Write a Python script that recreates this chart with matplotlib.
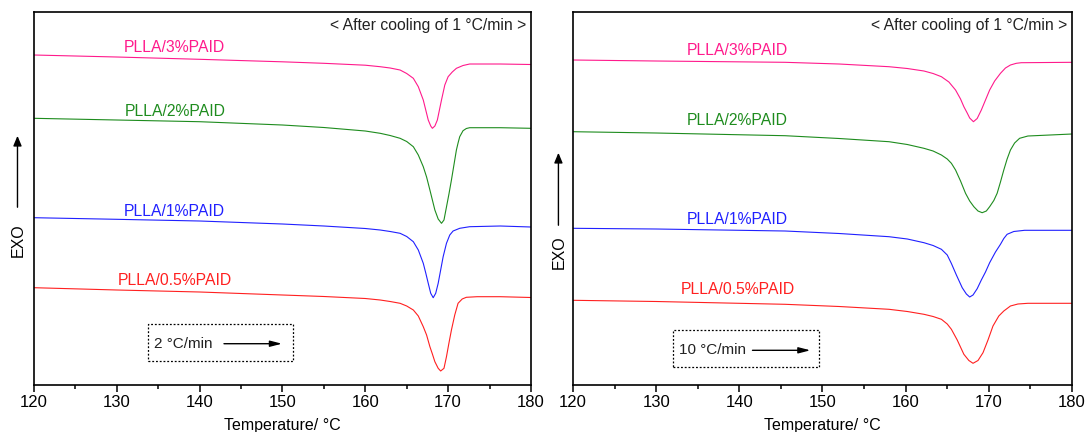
import matplotlib
matplotlib.use('Agg')
import matplotlib.pyplot as plt
from matplotlib.patches import Rectangle, FancyArrowPatch
from matplotlib.ticker import MultipleLocator

plt.rcParams['font.family'] = ['Liberation Sans', 'DejaVu Sans']

# ---- 2 C/min (left panel), heat flow in arbitrary units ----
T_2_3 = [120, 130, 140, 150, 155, 160, 161.8, 163.0, 164.2, 165.0, 165.8, 166.4, 167.0, 167.6,
         167.9, 168.1, 168.4, 168.7, 169.2, 169.6, 170.0, 170.5, 171.0, 171.8, 172.6, 176.3, 180]
Q_2_3 = [3.30, 3.28, 3.257, 3.232, 3.217, 3.198, 3.183, 3.17, 3.15, 3.115, 3.067, 2.983, 2.85, 2.65,
         2.59, 2.567, 2.59, 2.65, 2.85, 3.00, 3.083, 3.13, 3.167, 3.195, 3.21, 3.21, 3.205]

T_2_2 = [120, 130, 140, 150, 155, 160, 161.8, 163.0, 164.2, 165.0, 165.8, 166.4, 167.0, 167.4,
         167.8, 168.1, 168.4, 168.8, 169.2, 169.5, 169.8, 170.1, 170.4, 170.7, 171.0, 171.2,
         171.4, 171.8, 172.2, 172.6, 176.3, 180]
Q_2_2 = [2.667, 2.65, 2.633, 2.60, 2.575, 2.54, 2.517, 2.495, 2.467, 2.435, 2.383, 2.30, 2.183, 2.08,
         1.95, 1.85, 1.75, 1.66, 1.617, 1.65, 1.78, 1.91, 2.05, 2.20, 2.35, 2.42,
         2.483, 2.543, 2.565, 2.573, 2.573, 2.567]

T_2_1 = [120, 130, 140, 150, 155, 160, 161.8, 163.0, 164.2, 165.0, 165.8, 166.4, 167.0, 167.3,
         167.6, 167.9, 168.2, 168.5, 168.8, 169.1, 169.4, 169.8, 170.2, 170.6, 171.4, 172.6, 176.3, 180]
Q_2_1 = [1.673, 1.657, 1.64, 1.61, 1.59, 1.565, 1.55, 1.535, 1.517, 1.485, 1.433, 1.35, 1.217, 1.12,
         1.017, 0.917, 0.873, 0.917, 1.017, 1.15, 1.283, 1.417, 1.50, 1.54, 1.567, 1.583, 1.59, 1.58]

T_2_05 = [120, 130, 140, 150, 155, 160, 161.8, 163.0, 164.2, 165.0, 165.8, 166.4, 167.0, 167.4,
          167.8, 168.1, 168.4, 168.8, 169.1, 169.5, 169.8, 170.1, 170.4, 170.8, 171.2, 171.7,
          172.2, 173.5, 176.3, 180]
Q_2_05 = [0.973, 0.95, 0.93, 0.90, 0.885, 0.865, 0.85, 0.835, 0.817, 0.79, 0.75, 0.69, 0.583, 0.50,
          0.383, 0.31, 0.233, 0.167, 0.14, 0.167, 0.283, 0.42, 0.55, 0.70, 0.817, 0.86,
          0.877, 0.883, 0.883, 0.875]

# ---- 10 C/min (right panel) ----
T_10_3 = [120, 130, 145.5, 152, 158, 160.2, 162.2, 163.3, 164.3, 165.2, 166.0, 166.6, 167.0, 167.4,
          167.7, 168.15, 168.6, 169.1, 169.6, 170.1, 170.7, 171.4, 172.0, 172.6, 173.3, 173.9, 180]
Q_10_3 = [3.25, 3.24, 3.227, 3.21, 3.183, 3.165, 3.14, 3.115, 3.083, 3.03, 2.95, 2.86, 2.783, 2.72,
          2.67, 2.633, 2.665, 2.75, 2.85, 2.95, 3.04, 3.117, 3.17, 3.20, 3.217, 3.223, 3.227]

T_10_2 = [120, 130, 145.5, 152, 158, 160.2, 162.2, 163.3, 164.3, 165.0, 165.5, 166.0, 166.6, 167.2,
          167.7, 168.2, 168.7, 169.2, 169.7, 170.1, 170.6, 171.0, 171.4, 171.8, 172.2, 172.6,
          173.1, 173.7, 174.7, 180]
Q_10_2 = [2.533, 2.52, 2.493, 2.465, 2.433, 2.405, 2.367, 2.34, 2.30, 2.26, 2.217, 2.15, 2.04, 1.917,
          1.84, 1.783, 1.74, 1.723, 1.74, 1.783, 1.845, 1.917, 2.03, 2.15, 2.26, 2.35,
          2.42, 2.467, 2.49, 2.51]

T_10_1 = [120, 130, 145.5, 152, 158, 160.2, 162.2, 163.3, 164.3, 165.0, 165.5, 166.1, 166.8, 167.3,
          167.7, 168.1, 168.6, 169.1, 169.6, 170.1, 170.8, 171.4, 171.8, 172.2, 173.0, 174.3, 180]
Q_10_1 = [1.567, 1.56, 1.54, 1.515, 1.483, 1.46, 1.423, 1.395, 1.357, 1.30, 1.215, 1.10, 0.973, 0.91,
          0.88, 0.90, 0.963, 1.05, 1.13, 1.223, 1.33, 1.407, 1.465, 1.507, 1.535, 1.547, 1.547]

T_10_05 = [120, 130, 145.5, 152, 158, 160.2, 162.2, 163.3, 164.3, 165.0, 165.5, 166.2, 167.0, 167.6,
           168.1, 168.7, 169.3, 169.9, 170.5, 171.2, 171.8, 172.6, 173.5, 174.7, 180]
Q_10_05 = [0.847, 0.835, 0.807, 0.785, 0.757, 0.735, 0.707, 0.685, 0.657, 0.61, 0.557, 0.45, 0.307, 0.245,
           0.217, 0.245, 0.323, 0.45, 0.59, 0.69, 0.74, 0.79, 0.81, 0.817, 0.817]

names = ['PLLA/3%PAID', 'PLLA/2%PAID', 'PLLA/1%PAID', 'PLLA/0.5%PAID']
colors = ['#FF1A8C', '#1E8C1E', '#2020FF', '#FF2020']

left_curves = [(T_2_3, Q_2_3), (T_2_2, Q_2_2), (T_2_1, Q_2_1), (T_2_05, Q_2_05)]
right_curves = [(T_10_3, Q_10_3), (T_10_2, Q_10_2), (T_10_1, Q_10_1), (T_10_05, Q_10_05)]

# 标签位置 (温度, 热流)
left_label_x = 137.0
left_label_y = [3.373, 2.74, 1.735, 1.047]
right_label_x = 139.8
right_label_y = [3.35, 2.643, 1.655, 0.957]


def setup_axis(ax):
    ax.set_xlim(120, 180)
    ax.set_ylim(0, 3.73)
    ax.set_yticks([])
    ax.xaxis.set_major_locator(MultipleLocator(10))
    ax.xaxis.set_minor_locator(MultipleLocator(5))
    ax.tick_params(axis='x', which='major', direction='out', length=5, width=1.1,
                   labelsize=12, pad=2, top=False)
    ax.tick_params(axis='x', which='minor', direction='out', length=3, width=1.1, top=False)
    for sp in ax.spines.values():
        sp.set_linewidth(1.2)
    ax.set_xlabel('Temperature/ °C', fontsize=11.5, labelpad=6)
    ax.text(0.991, 0.965, '< After cooling of 1 °C/min >', transform=ax.transAxes,
            ha='right', va='center', fontsize=11.3, color='#222222')


def draw_panel(ax, curves, lab_x, lab_y, rate_text, box, text_pos, arrow):
    for (t, q), name, c, ly in zip(curves, names, colors, lab_y):
        ax.plot(t, q, color=c, lw=0.8)
        ax.text(lab_x, ly, name, color=c, fontsize=11.3, ha='center', va='center')
    # 虚线框 + 箭头
    bx, by, bw, bh = box
    ax.add_patch(Rectangle((bx, by), bw, bh, transform=ax.transAxes, fill=False,
                           ls=(0, (1.5, 1.5)), lw=0.9, ec='black'))
    ax.text(text_pos[0], text_pos[1], rate_text, transform=ax.transAxes,
            ha='left', va='center', fontsize=11, color='#222222')
    ax.annotate('', xy=(arrow[1], text_pos[1]), xytext=(arrow[0], text_pos[1]),
                xycoords='axes fraction', textcoords='axes fraction',
                arrowprops=dict(arrowstyle='-|>,head_length=0.7,head_width=0.18',
                                lw=1.0, color='black', shrinkA=0, shrinkB=0))


fig = plt.figure(figsize=(10.86, 4.32), dpi=100)
ax1 = fig.add_axes([0.0313, 0.1088, 0.4576, 0.8634])
ax2 = fig.add_axes([0.5276, 0.1088, 0.4595, 0.8634])

setup_axis(ax1)
setup_axis(ax2)

draw_panel(ax1, left_curves, left_label_x, left_label_y, '2 °C/min',
           (0.2294, 0.0643, 0.2911, 0.0984), (0.2414, 0.1107), (0.3823, 0.499))
draw_panel(ax2, right_curves, right_label_x, right_label_y, '10 °C/min',
           (0.2004, 0.049, 0.2926, 0.0992), (0.2124, 0.093), (0.3597, 0.4758))

# EXO 标记和向上箭头
for ex, ey, ay0, ay1 in [(0.0166, 0.4433, 0.5139, 0.6921), (0.5147, 0.4155, 0.4722, 0.6528)]:
    fig.text(ex, ey, 'EXO', rotation=90, ha='center', va='center', fontsize=11.5)
    fig.patches.append(FancyArrowPatch(
        (ex - 0.0005, ay0), (ex - 0.0005, ay1), transform=fig.transFigure,
        arrowstyle='-|>,head_length=6,head_width=2.5', lw=1.0, color='black',
        mutation_scale=1))

fig.savefig('out.png', dpi=100)
